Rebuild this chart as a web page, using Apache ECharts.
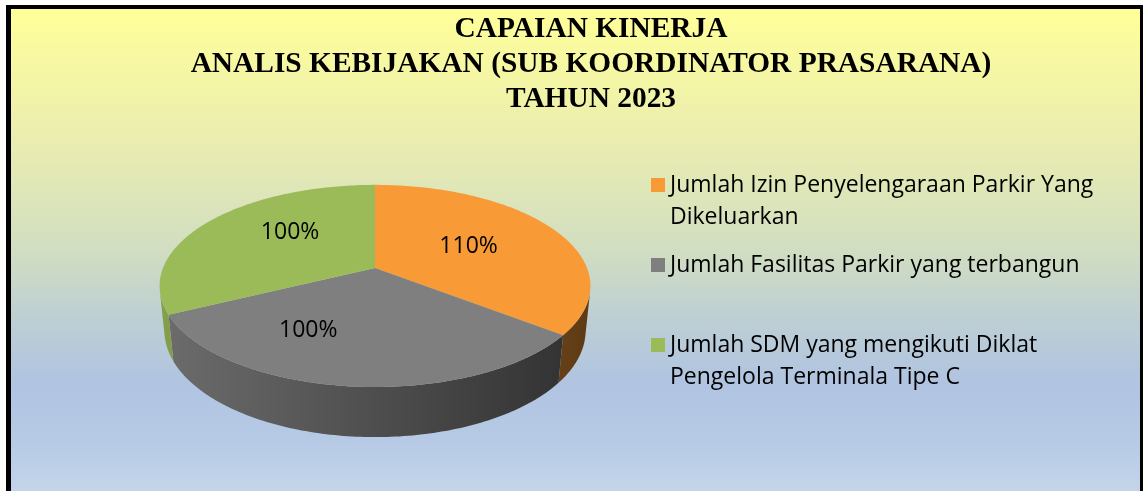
<!DOCTYPE html>
<html>
<head>
<meta charset="utf-8">
<script src="https://cdn.jsdelivr.net/npm/echarts@6/dist/echarts.min.js"></script>
<style>
html, body { margin: 0; background: #fff; }
#frame {
  position: absolute; left: 6px; top: 5px; width: 1129px; height: 490px;
  border: solid #000; border-width: 4px 4px 0 5px;
}
#chart { width: 100%; height: 100%; }
</style>
</head>
<body>
<div id="frame"><div id="chart"></div></div>
<script>
// data
const titleLines = ['CAPAIAN KINERJA', 'ANALIS KEBIJAKAN (SUB KOORDINATOR PRASARANA)', 'TAHUN 2023']
const categories = [
  'Jumlah Izin Penyelengaraan Parkir Yang Dikeluarkan',
  'Jumlah Fasilitas Parkir yang terbangun',
  'Jumlah SDM yang mengikuti Diklat Pengelola Terminala Tipe C'
]
const values = [110, 100, 100]

// styles
const colors = ['#F89A36', '#7F7F7F', '#9BBB59']
const labelNudge = [[2, -1], [-55, 9], [1, -11]]
const legendTops = [128, 240, 288]
const legendWrapped = [true, false, true]
const font = 'Open Sans'

// 3d view of the pie (screen centre, radius in px, tilt, perspective, thickness)
const view = { cx: 364, cy: 259, scale: 212, tilt: 27.5, persp: 0.2, depth: 0.239 }
const sinT = Math.sin(view.tilt * Math.PI / 180)
const cosT = Math.cos(view.tilt * Math.PI / 180)
const frontFrom = Math.acos(-view.persp / cosT) * 180 / Math.PI

const total = values.reduce((a, b) => a + b, 0)
const starts = values.map((v, i) => values.slice(0, i).reduce((a, b) => a + b, 0))

function project (u, v, w) {
  const yc = v * sinT + w * cosT
  const df = 1 - view.persp * (v * cosT - w * sinT)
  return [view.cx + view.scale * u / df, view.cy + view.scale * yc / df]
}
function rimPoint (deg, r, w) {
  const a = deg * Math.PI / 180
  return project(r * Math.sin(a), -r * Math.cos(a), w)
}
function arc (a0, a1, w) {
  const pts = []
  const n = Math.max(2, Math.ceil(Math.abs(a1 - a0)))
  for (let i = 0; i <= n; i++) pts.push(rimPoint(a0 + (a1 - a0) * i / n, 1, w))
  return pts
}
function shade (hex, k) {
  const n = parseInt(hex.slice(1), 16)
  const c = [(n >> 16) & 255, (n >> 8) & 255, n & 255].map(x => Math.round(x * k))
  return 'rgb(' + c.join(',') + ')'
}

function renderItem (params, api) {
  const i = params.seriesIndex
  const color = colors[i]
  const a0 = api.value(0) / total * 360
  const a1 = (api.value(0) + api.value(1)) / total * 360
  const children = []
  // visible part of the side wall
  const s0 = Math.max(a0, frontFrom)
  const s1 = Math.min(a1, 360 - frontFrom)
  if (s1 > s0) {
    children.push({
      type: 'polygon',
      shape: { points: arc(s0, s1, 0).concat(arc(s1, s0, view.depth)) },
      style: {
        fill: new echarts.graphic.LinearGradient(view.cx - view.scale, 0, view.cx + view.scale, 0, [
          { offset: 0, color: shade(color, 0.85) },
          { offset: 1, color: shade(color, 0.38) }
        ], true)
      }
    })
  }
  children.push({
    type: 'polygon',
    shape: { points: [project(0, 0, 0)].concat(arc(a0, a1, 0)) },
    style: { fill: color }
  })
  const mid = rimPoint((a0 + a1) / 2, 0.5, 0)
  children.push({
    type: 'text',
    style: {
      text: api.value(1) + '%',
      x: mid[0] + labelNudge[i][0],
      y: mid[1] + labelNudge[i][1],
      align: 'center',
      verticalAlign: 'middle',
      fill: '#000',
      font: '23px "' + font + '"'
    }
  })
  return { type: 'group', children: children }
}

const chart = echarts.init(document.getElementById('chart'))
const option = {
  animation: false,
  backgroundColor: new echarts.graphic.LinearGradient(0, 0, 0, 1, [
    { offset: 0, color: '#FFFF99' },
    { offset: 0.27, color: '#EAEDB0' },
    { offset: 0.5, color: '#D0DDC2' },
    { offset: 0.62, color: '#BFD0D2' },
    { offset: 0.76, color: '#B0C4E1' },
    { offset: 0.88, color: '#B6CAE6' },
    { offset: 1, color: '#C6D6EA' }
  ]),
  title: {
    text: titleLines.join('\n'),
    left: 580,
    top: 3,
    padding: 0,
    textAlign: 'center',
    textStyle: {
      fontFamily: 'Liberation Serif',
      fontWeight: 'bold',
      fontSize: 29.4,
      lineHeight: 35,
      color: '#000'
    }
  },
  legend: categories.map((name, i) => ({
    data: [name],
    orient: 'vertical',
    left: 640,
    top: legendTops[i],
    padding: 0,
    icon: 'rect',
    itemWidth: 14,
    itemHeight: 14,
    selectedMode: false,
    // a leading blank line keeps the marker level with the first text line
    formatter: n => (legendWrapped[i] ? '\n' : '') + n,
    textStyle: {
      fontFamily: font,
      fontSize: 23,
      lineHeight: 32,
      color: '#000',
      width: 440,
      overflow: 'break'
    }
  })),
  series: categories.map((name, i) => ({
    name: name,
    type: 'custom',
    coordinateSystem: 'none',
    silent: true,
    itemStyle: { color: colors[i] },
    renderItem: renderItem,
    data: [[starts[i], values[i]]]
  }))
}
chart.setOption(option)
window.addEventListener('resize', chart.resize)
</script>
</body>
</html>
